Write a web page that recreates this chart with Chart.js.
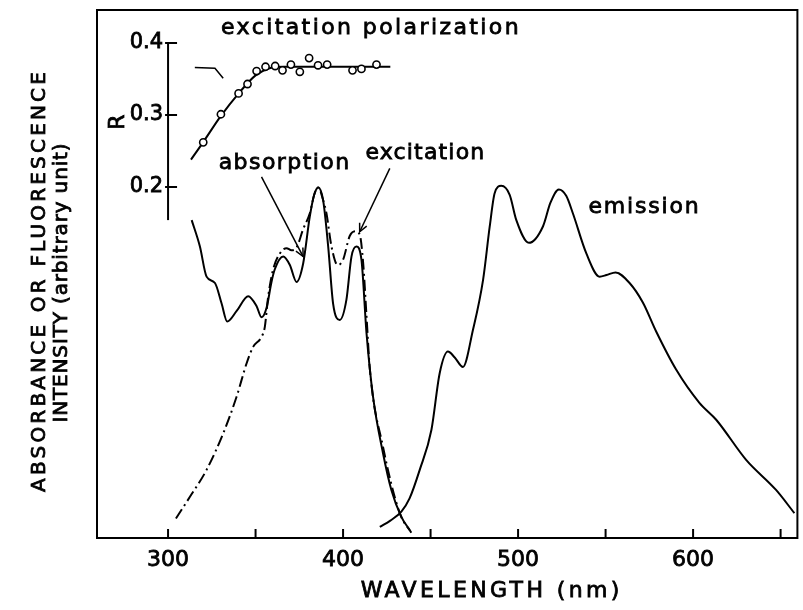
<!DOCTYPE html>
<html>
<head>
<meta charset="utf-8">
<script src="https://cdn.jsdelivr.net/npm/chart.js@4.4.1/dist/chart.umd.min.js"></script>
<style>
  html, body { margin: 0; padding: 0; background: #fff; }
</style>
</head>
<body>
<canvas id="spectra" width="803" height="610"></canvas>
<script>
// absorption spectrum (solid)
var absWl  = [313.5, 318.2, 322.0, 326.8, 330.6, 333.8, 339.2, 345.8, 350.6, 353.4, 356.3, 359.1, 361.0, 365.8, 369.6, 373.4, 377.2, 381.0, 383.5, 385.8, 388.6, 391.5, 394.3, 398.1, 401.9, 404.8, 407.6, 410.5, 413.4, 417.1, 422.8, 427.6, 433.3, 438.1];
var absVal = [60.2, 55.2, 49.5, 48.3, 44.4, 41.0, 43.0, 45.8, 43.9, 41.8, 43.6, 48.5, 50.9, 53.3, 51.7, 48.5, 52.0, 60.9, 65.0, 66.4, 64.0, 55.2, 44.4, 41.3, 45.1, 53.3, 55.2, 52.7, 38.8, 26.8, 16.1, 9.1, 4.0, 1.5];

// excitation spectrum (dash-dot)
var excWl  = [304.5, 312.5, 322.0, 331.5, 339.2, 344.9, 348.6, 353.4, 355.3, 357.2, 360.0, 363.9, 367.7, 370.5, 373.4, 377.2, 381.0, 383.5, 385.8, 388.6, 390.5, 393.4, 396.9, 400.0, 403.8, 407.0, 409.5, 411.5, 413.4, 415.3, 422.8, 432.4, 439.0];
var excVal = [3.7, 7.8, 12.9, 19.8, 26.8, 33.1, 36.2, 38.1, 40.0, 45.7, 50.8, 53.9, 54.9, 54.5, 55.0, 58.5, 61.5, 65.0, 66.4, 64.0, 61.5, 55.2, 51.7, 52.7, 57.2, 58.1, 57.5, 52.0, 42.0, 32.0, 17.3, 4.7, 1.0];

// fluorescence emission spectrum
var emWl  = [421.0, 427.0, 433.3, 438.0, 443.8, 450.5, 455.2, 459.9, 463.8, 468.5, 474.2, 480.0, 483.8, 486.6, 490.4, 495.2, 499.0, 506.2, 514.2, 518.5, 523.3, 527.5, 531.3, 539.0, 546.6, 550.5, 555.7, 563.7, 571.3, 578.9, 590.3, 603.6, 613.2, 630.3, 647.4, 657.9];
var emVal = [2.1, 3.3, 5.0, 7.5, 12.9, 20.5, 31.2, 35.3, 34.2, 32.4, 39.4, 48.9, 59.0, 65.3, 66.7, 65.0, 60.2, 55.9, 59.0, 63.5, 66.0, 64.8, 61.5, 53.9, 49.5, 49.8, 50.3, 48.3, 44.6, 39.1, 31.9, 25.6, 22.4, 14.8, 9.1, 4.7];

// excitation polarization R (inset)
var polWl = [320.1, 330.2, 340.3, 345.4, 350.6, 355.7, 361.2, 365.4, 370.2, 375.3, 380.6, 385.7, 390.9, 405.4, 410.5, 419.1];
var polR  = [0.262, 0.301, 0.330, 0.343, 0.361, 0.367, 0.368, 0.362, 0.370, 0.360, 0.379, 0.369, 0.370, 0.362, 0.364, 0.370];
var fitWl = [313.1, 320.0, 330.0, 340.0, 350.0, 358.0, 366.0, 380.0, 427.0];
var fitR  = [0.238, 0.262, 0.298, 0.329, 0.355, 0.365, 0.367, 0.367, 0.367];

// axis ticks
var xTicks = [300, 350, 400, 450, 500, 550, 600, 650];
var xTickLabels = ['300', '', '400', '', '500', '', '600', ''];
var rTicks = [0.4, 0.3, 0.2];
var rTickLabels = ['0.4', '0.3', '0.2'];
var rAxisAt = 300, rAxisEnd = 0.154;

// leader lines and the little arrow next to the R axis
var absLeadWl = [353.4, 377.2], absLeadVal = [68.4, 53.3];
var excLeadWl = [426.7, 409.5], excLeadVal = [70.0, 58.0];
var rArrowWl = [315.3, 326.8, 331.5], rArrowR = [0.366, 0.365, 0.351];

function pts(xs, ys) {
  return xs.map(function (v, i) { return { x: v, y: ys[i] }; });
}

var FONT = '"DejaVu Sans"';
var notes = [
  { text: 'excitation polarization', wl: 415.3, v: 96.6, w: 300 },
  { text: 'absorption', wl: 366.2, v: 71.0, w: 132 },
  { text: 'excitation', wl: 446.7, v: 72.9, w: 120 },
  { text: 'emission', wl: 571.7, v: 62.7, w: 112 }
];

// text with a thin outline so the strokes come out a bit heavier
function ink(ctx, text, x, y) {
  ctx.strokeText(text, x, y);
  ctx.fillText(text, x, y);
}

// centred text stretched by letter spacing to a given width
function spaced(ctx, text, x, y, w) {
  ctx.letterSpacing = '0px';
  var sp = Math.max(0, (w - ctx.measureText(text).width) / text.length);
  ctx.letterSpacing = sp + 'px';
  ink(ctx, text, x + sp / 2, y);
  ctx.letterSpacing = '0px';
}

var decor = {
  id: 'decor',
  afterDatasetsDraw: function (chart) {
    var ctx = chart.ctx, a = chart.chartArea;
    var x = chart.scales.x, y = chart.scales.y, yR = chart.scales.yR;
    ctx.save();
    ctx.strokeStyle = '#000';
    ctx.fillStyle = '#000';
    ctx.lineWidth = 2;
    ctx.strokeRect(a.left, a.top, a.right - a.left, a.bottom - a.top);

    // ticks point into the plot
    xTicks.forEach(function (v) {
      var px = x.getPixelForValue(v);
      ctx.beginPath();
      ctx.moveTo(px, a.bottom);
      ctx.lineTo(px, a.bottom - 9);
      ctx.stroke();
    });

    // inset R axis
    var ax = x.getPixelForValue(rAxisAt);
    ctx.beginPath();
    ctx.moveTo(ax, yR.getPixelForValue(rTicks[0]));
    ctx.lineTo(ax, yR.getPixelForValue(rAxisEnd));
    ctx.stroke();
    rTicks.forEach(function (r) {
      var py = yR.getPixelForValue(r);
      ctx.beginPath();
      ctx.moveTo(ax - 3, py);
      ctx.lineTo(ax + 9, py);
      ctx.stroke();
    });

    // arrowheads on leader lines
    ctx.lineWidth = 1.5;
    chart.data.datasets.forEach(function (ds, i) {
      if (!ds.arrowHead) return;
      var d = chart.getDatasetMeta(i).data;
      var p1 = d[d.length - 2], p2 = d[d.length - 1];
      var ang = Math.atan2(p2.y - p1.y, p2.x - p1.x);
      ctx.beginPath();
      ctx.moveTo(p2.x - 9 * Math.cos(ang - 0.45), p2.y - 9 * Math.sin(ang - 0.45));
      ctx.lineTo(p2.x, p2.y);
      ctx.lineTo(p2.x - 9 * Math.cos(ang + 0.45), p2.y - 9 * Math.sin(ang + 0.45));
      ctx.stroke();
    });

    ctx.lineWidth = 0.8;
    ctx.textBaseline = 'middle';

    // inset tick labels and the R title
    ctx.font = '21px ' + FONT;
    ctx.textAlign = 'right';
    rTicks.forEach(function (r, i) {
      ink(ctx, rTickLabels[i], ax - 5, yR.getPixelForValue(r));
    });
    ctx.save();
    ctx.translate(ax - 50, yR.getPixelForValue(0.29));
    ctx.rotate(-Math.PI / 2);
    ctx.textAlign = 'center';
    ctx.font = '22px ' + FONT;
    ink(ctx, 'R', 0, 0);
    ctx.restore();

    // curve names
    ctx.font = '22px ' + FONT;
    ctx.textAlign = 'center';
    notes.forEach(function (n) {
      spaced(ctx, n.text, x.getPixelForValue(n.wl), y.getPixelForValue(n.v), n.w);
    });

    // axis titles
    spaced(ctx, 'WAVELENGTH (nm)', 490, 591, 262);
    ctx.font = '20px ' + FONT;
    ctx.save();
    ctx.translate(40, 282);
    ctx.rotate(-Math.PI / 2);
    spaced(ctx, 'ABSORBANCE OR FLUORESCENCE', 0, 0, 423);
    ctx.restore();
    ctx.save();
    ctx.translate(62, 283);
    ctx.rotate(-Math.PI / 2);
    spaced(ctx, 'INTENSITY (arbitrary unit)', 0, 0, 280);
    ctx.restore();
    ctx.restore();
  }
};

var line = { borderColor: '#000', borderWidth: 2, pointRadius: 0, fill: false, cubicInterpolationMode: 'monotone' };
var leader = { borderColor: '#000', borderWidth: 1.5, pointRadius: 0, fill: false, tension: 0 };

new Chart(document.getElementById('spectra'), {
  type: 'line',
  data: {
    datasets: [
      { label: 'R', data: pts(polWl, polR), yAxisID: 'yR', showLine: false,
        pointRadius: 3.6, pointBackgroundColor: '#fff', pointBorderColor: '#000', pointBorderWidth: 1.6 },
      Object.assign({ label: 'R fit', data: pts(fitWl, fitR), yAxisID: 'yR' }, line),
      Object.assign({ label: 'absorption', data: pts(absWl, absVal) }, line),
      Object.assign({ label: 'excitation', data: pts(excWl, excVal), borderDash: [11, 4, 2, 4] }, line),
      Object.assign({ label: 'emission', data: pts(emWl, emVal) }, line),
      Object.assign({ label: 'abs lead', data: pts(absLeadWl, absLeadVal), arrowHead: true }, leader),
      Object.assign({ label: 'exc lead', data: pts(excLeadWl, excLeadVal), arrowHead: true }, leader),
      Object.assign({ label: 'R arrow', data: pts(rArrowWl, rArrowR), yAxisID: 'yR' }, leader)
    ]
  },
  options: {
    responsive: false,
    animation: false,
    events: [],
    layout: { padding: { left: 97, right: 5, top: 10, bottom: 0 } },
    plugins: { legend: { display: false }, tooltip: { enabled: false } },
    scales: {
      x: {
        type: 'linear', min: 259.4, max: 659.6,
        grid: { display: false, drawTicks: false },
        border: { display: false },
        afterBuildTicks: function (s) { s.ticks = xTicks.map(function (v) { return { value: v }; }); },
        afterFit: function (s) { s.height = 72; },
        ticks: {
          color: '#000', padding: 9, maxRotation: 0, autoSkip: false,
          textStrokeColor: '#000', textStrokeWidth: 0.8,
          font: { family: 'DejaVu Sans', size: 22 },
          callback: function (v) { return xTickLabels[xTicks.indexOf(v)]; }
        }
      },
      y: { display: false, min: 0, max: 100 },
      yR: { display: false, min: -0.2875, max: 0.4458 }
    }
  },
  plugins: [decor]
});
</script>
</body>
</html>
